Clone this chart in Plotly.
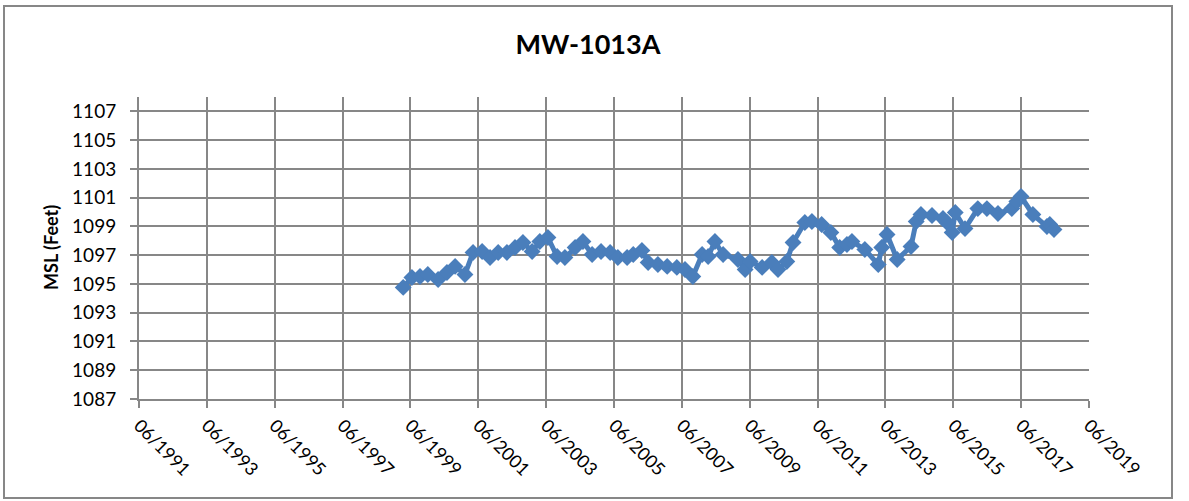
import plotly.graph_objects as go

dates = [
    "1999-03-15", "1999-06-17", "1999-09-12", "1999-12-05", "2000-03-25", "2000-06-28",
    "2000-09-24", "2001-01-08", "2001-04-05", "2001-07-12", "2001-10-05", "2002-01-01",
    "2002-04-05", "2002-07-01", "2002-09-24", "2003-01-01", "2003-03-25", "2003-06-20",
    "2003-09-27", "2003-12-20", "2004-04-08", "2004-07-01", "2004-10-08", "2005-01-12",
    "2005-04-20", "2005-07-12", "2005-10-20", "2005-12-25", "2006-03-28", "2006-06-03",
    "2006-09-16", "2006-12-25", "2007-04-08", "2007-07-05", "2007-09-27", "2008-01-05",
    "2008-03-10", "2008-05-22", "2008-08-18", "2009-01-25", "2009-04-12", "2009-06-05",
    "2009-10-12", "2010-01-25", "2010-04-01", "2010-07-05", "2010-09-10", "2011-01-15",
    "2011-04-01", "2011-07-15", "2011-10-22", "2012-01-25", "2012-04-12", "2012-06-05",
    "2012-10-22", "2013-03-15", "2013-04-22", "2013-06-18", "2013-10-05", "2014-03-03",
    "2014-04-28", "2014-06-18", "2014-10-15", "2015-02-10", "2015-03-25", "2015-05-20",
    "2015-06-22", "2015-10-05", "2016-02-20", "2016-05-28", "2016-09-24", "2017-02-20",
    "2017-04-15", "2017-05-30", "2017-10-05", "2018-03-05", "2018-04-05", "2018-05-20",
]
msl_feet = [
    1094.76, 1095.45, 1095.52, 1095.66, 1095.31, 1095.80,
    1096.22, 1095.66, 1097.19, 1097.26, 1096.84, 1097.19,
    1097.19, 1097.53, 1097.88, 1097.26, 1097.95, 1098.23,
    1096.91, 1096.84, 1097.53, 1097.95, 1097.05, 1097.26,
    1097.19, 1096.84, 1096.84, 1097.05, 1097.33, 1096.49,
    1096.35, 1096.22, 1096.15, 1096.01, 1095.52, 1097.05,
    1096.91, 1097.95, 1097.05, 1096.70, 1096.01, 1096.56,
    1096.15, 1096.49, 1096.01, 1096.56, 1097.88, 1099.27,
    1099.34, 1099.13, 1098.58, 1097.53, 1097.74, 1097.95,
    1097.40, 1096.35, 1097.53, 1098.44, 1096.70, 1097.60,
    1099.34, 1099.83, 1099.76, 1099.55, 1099.27, 1098.58,
    1099.97, 1098.85, 1100.24, 1100.24, 1099.90, 1100.24,
    1100.73, 1101.08, 1099.83, 1098.99, 1099.13, 1098.78,
]

chart_title = "MW-1013A"
y_title = "MSL (Feet)"
x_range = ["1991-06-01", "2019-06-01"]
y_range = [1087, 1108]

FONT = "Lato, 'Open Sans', sans-serif"
GRID = "#878787"

fig = go.Figure()
fig.add_trace(go.Scatter(
    x=dates, y=msl_feet, mode="lines+markers",
    line=dict(color="#4A7EBB", width=5),
    marker=dict(symbol="diamond", size=13, color="#4A7EBB"),
    showlegend=False,
))

W, H = 1189, 501
L, R, T, B = 139, 1089, 97, 399
pw, ph = R - L, B - T

def px(x):
    return (x - L) / pw

def py(y):
    return (B - y) / ph

fig.update_layout(
    width=W, height=H,
    margin=dict(l=L, r=W - R, t=T, b=H - B),
    paper_bgcolor="white", plot_bgcolor="white",
    font=dict(family=FONT, color="black", size=18),
    title=dict(text="<b>" + chart_title + "</b>", x=588 / W, xanchor="center",
               y=1 - 45 / H, yanchor="middle", font=dict(size=27, family=FONT)),
    xaxis=dict(
        type="date", range=x_range, tick0="1991-06-01", dtick="M24",
        tickformat="%m/%Y", tickangle=45,
        showgrid=True, gridcolor=GRID, gridwidth=2,
        showline=True, linecolor=GRID, linewidth=2,
        ticks="outside", ticklen=7, tickcolor=GRID, tickwidth=2,
        tickfont=dict(size=18), zeroline=False,
    ),
    yaxis=dict(
        range=y_range, tick0=1087, dtick=2,
        showgrid=True, gridcolor=GRID, gridwidth=2,
        showline=True, linecolor=GRID, linewidth=2,
        ticks="outside", ticklen=7, tickcolor=GRID, tickwidth=2,
        tickfont=dict(size=19), ticklabelstandoff=10, zeroline=False,
    ),
    annotations=[dict(
        text="<b>" + y_title + "</b>", textangle=-90, xref="paper", yref="paper",
        x=px(51), y=0.5, xanchor="center", yanchor="middle", showarrow=False,
        font=dict(size=18, family=FONT),
    )],
    shapes=[dict(
        type="rect", xref="paper", yref="paper",
        x0=px(4), x1=px(1172), y0=py(498), y1=py(6),
        line=dict(color="#878787", width=2), layer="below",
    )],
)

fig.write_html(
    "out.html",
    config={"displayModeBar": False},
    post_script="document.body.style.margin='0px';document.body.style.overflow='hidden';",
)
